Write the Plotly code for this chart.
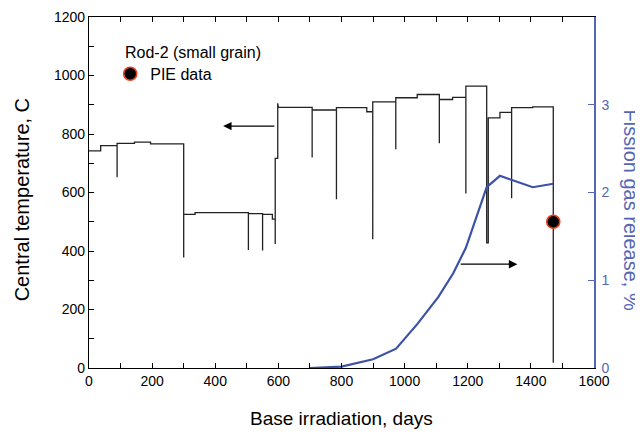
import plotly.graph_objects as go

# Central temperature history (step curve, repeated days = vertical jumps)
temp_days = [0, 37, 37, 89, 89, 89, 144, 144, 195, 195, 300, 300, 300, 336, 336,
             505, 505, 505, 550, 550, 550, 581, 581, 590, 590, 590, 598, 598, 600,
             707, 707, 707, 784, 784, 784, 880, 880, 899, 899, 899, 972, 972, 972,
             1040, 1040, 1110, 1110, 1110, 1152, 1152, 1194, 1194, 1194, 1260, 1260,
             1265, 1265, 1302, 1302, 1339, 1339, 1339, 1406, 1406, 1471, 1471]
temp_vals = [742, 742, 760, 760, 652, 768, 768, 772, 772, 766, 766, 378, 525, 525, 531,
             531, 403, 528, 528, 402, 525, 525, 509, 509, 424, 717, 717, 905, 891,
             891, 720, 882, 882, 577, 890, 890, 876, 876, 440, 910, 910, 748, 924,
             924, 935, 935, 768, 918, 918, 925, 925, 597, 964, 964, 428,
             428, 855, 855, 874, 874, 580, 890, 890, 893, 893, 18]

# Fission gas release (%)
fgr_days = [700, 800, 900, 973, 1040, 1107, 1154, 1194, 1260, 1302, 1406, 1471]
fgr_vals = [0.0, 0.015, 0.10, 0.22, 0.50, 0.81, 1.08, 1.37, 2.06, 2.19, 2.06, 2.10]

# PIE data
pie_days = [1471]
pie_temp = [500]

# Axis tick values
fgr_ticks = [0, 1, 2, 3]

FONT = "Liberation Sans, Arial, sans-serif"
BLUE_LINE = "#3b52a6"
BLUE_AXIS = "#5566b4"

fig = go.Figure()
fig.add_trace(go.Scatter(x=temp_days, y=temp_vals, mode="lines",
                         line=dict(color="#222222", width=1.3), showlegend=False,
                         hoverinfo="skip"))
fig.add_trace(go.Scatter(x=fgr_days, y=fgr_vals, mode="lines", yaxis="y2",
                         line=dict(color=BLUE_LINE, width=2.2), showlegend=False))
fig.add_trace(go.Scatter(x=pie_days, y=pie_temp, mode="markers", name="PIE data",
                         marker=dict(color="black", size=13,
                                     line=dict(color="#e8401c", width=1.6)),
                         showlegend=True))

# the page body adds an 8 px offset, so the figure is 8 px smaller
fig.update_layout(
    width=635, height=425,
    margin=dict(l=81, r=49, t=9, b=65, autoexpand=False),
    paper_bgcolor="white", plot_bgcolor="white",
    font=dict(family=FONT, size=14, color="black"),
    showlegend=True,
    legend=dict(x=0.042, y=0.838, xanchor="left", yanchor="middle",
                font=dict(size=16, family=FONT), bgcolor="rgba(0,0,0,0)",
                borderwidth=0),
    xaxis=dict(range=[0, 1600], dtick=200, tick0=0, showgrid=False, zeroline=False,
               automargin=False,
               showline=True, linecolor="black", linewidth=1.2, mirror="ticks",
               ticks="inside", ticklen=5, tickcolor="black",
               minor=dict(dtick=100, ticks="inside", ticklen=5, tickcolor="black"),
               tickfont=dict(size=14)),
    yaxis=dict(range=[0, 1200], dtick=200, tick0=0, showgrid=False, zeroline=False,
               automargin=False,
               showline=True, linecolor="black", linewidth=1.2,
               ticks="inside", ticklen=5, tickcolor="black",
               minor=dict(dtick=100, ticks="inside", ticklen=5, tickcolor="black"),
               tickfont=dict(size=14)),
    yaxis2=dict(range=[0, 4], tickvals=fgr_ticks, overlaying="y", side="right",
                automargin=False,
                showgrid=False, zeroline=False, showline=True, linecolor=BLUE_AXIS,
                linewidth=1.5, ticks="inside", ticklen=6, tickcolor=BLUE_AXIS,
                tickfont=dict(size=14, color=BLUE_AXIS), ticklabelstandoff=3),
)

# Axis titles
fig.add_annotation(text="Base irradiation, days", xref="paper", yref="paper",
                   x=0.5, y=-0.145, xanchor="center", yanchor="middle",
                   showarrow=False, font=dict(size=19, family=FONT))
fig.add_annotation(text="Central temperature, C", xref="paper", yref="paper",
                   x=-0.133, y=0.48, xanchor="center", yanchor="middle",
                   textangle=-90, showarrow=False, font=dict(size=20, family=FONT))
fig.add_annotation(text="Fission gas release, %", xref="paper", yref="paper",
                   x=1.073, y=0.449, xanchor="center", yanchor="middle",
                   textangle=90, showarrow=False,
                   font=dict(size=20, family=FONT, color=BLUE_AXIS))

fig.add_annotation(text="Rod-2 (small grain)", xref="paper", yref="paper",
                   x=0.067, y=0.900, xanchor="left", yanchor="middle",
                   showarrow=False, font=dict(size=16, family=FONT))

# Arrows pointing to the respective axes
fig.add_annotation(x=425, y=827, ax=592, ay=827, xref="x", yref="y",
                   axref="x", ayref="y", text="", showarrow=True,
                   arrowhead=2, arrowsize=1.3, arrowwidth=1.3, arrowcolor="black")
fig.add_annotation(x=1357, y=355, ax=1173, ay=355, xref="x", yref="y",
                   axref="x", ayref="y", text="", showarrow=True,
                   arrowhead=2, arrowsize=1.3, arrowwidth=1.3, arrowcolor="black")

fig.write_html("out.html")
